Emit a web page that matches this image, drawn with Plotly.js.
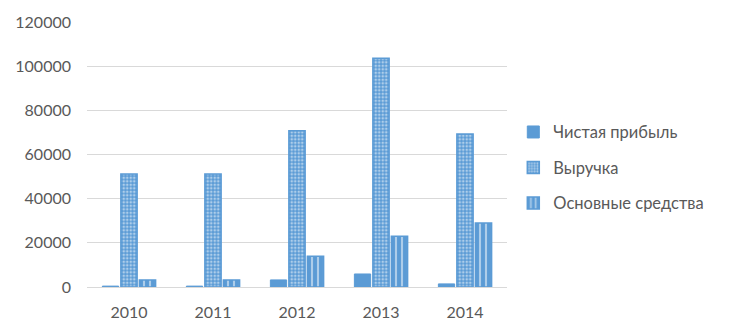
<!DOCTYPE html>
<html><head><meta charset="utf-8">
<script src="https://cdn.plot.ly/plotly-3.0.1.min.js"></script>
<style>body{margin:0;background:#fff}#chart{width:731px;height:336px}</style>
</head><body><div id="chart"></div>
<script>
const years = ['2010','2011','2012','2013','2014'];
const seriesNames = ['Чистая прибыль','Выручка','Основные средства'];
const profit = [400, 400, 3200, 5900, 1400];
const revenue = [51200, 51200, 70700, 103600, 69300];
const assets = [3200, 3200, 13900, 23000, 29000];

const blue = '#5b9bd5';
const font = {family: 'Lato, "Open Sans", sans-serif', color: '#595959', size: 16};

const traces = [
  {type:'bar', x:years, y:profit, name:seriesNames[0], legendgroup:'a',
   marker:{color:blue, line:{color:blue, width:1}}},
  {type:'bar', x:years, y:revenue, name:seriesNames[1], legendgroup:'b',
   marker:{color:blue, line:{color:blue, width:1.5},
     pattern:{shape:'.', fgcolor:'#ffffff', bgcolor:blue, size:3.5, solidity:0.45, fillmode:'overlay'}}},
  {type:'bar', x:years, y:assets, name:seriesNames[2], legendgroup:'c',
   marker:{color:blue, line:{color:blue, width:1.5},
     pattern:{shape:'|', fgcolor:'#ffffff', bgcolor:blue, size:6, solidity:0.35, fillmode:'overlay'}}}
];

const layout = {
  width:731, height:336,
  margin:{l:87, r:224, t:22, b:49},
  paper_bgcolor:'#fff', plot_bgcolor:'#fff',
  font: font,
  barmode:'group', bargap:0.34, bargroupgap:0.12,
  showlegend:true,
  legend:{x:1.015, y:0.45, xanchor:'left', yanchor:'middle', tracegroupgap:11,
          font:{family:font.family, color:'#595959', size:16.5}, itemwidth:30, traceorder:'grouped'},
  xaxis:{type:'category', showgrid:false, showline:false, ticks:'', tickfont:font, zeroline:false,
         ticklabelstandoff:14},
  yaxis:{range:[0,120000], dtick:20000, tickformat:'d', gridcolor:'#d9d9d9', gridwidth:1,
         zeroline:true, zerolinecolor:'#d9d9d9', zerolinewidth:1, showline:false, ticks:'',
         tickfont:font, ticklabelstandoff:15}
};
Plotly.newPlot('chart', traces, layout, {displayModeBar:false, staticPlot:true});
</script></body></html>
